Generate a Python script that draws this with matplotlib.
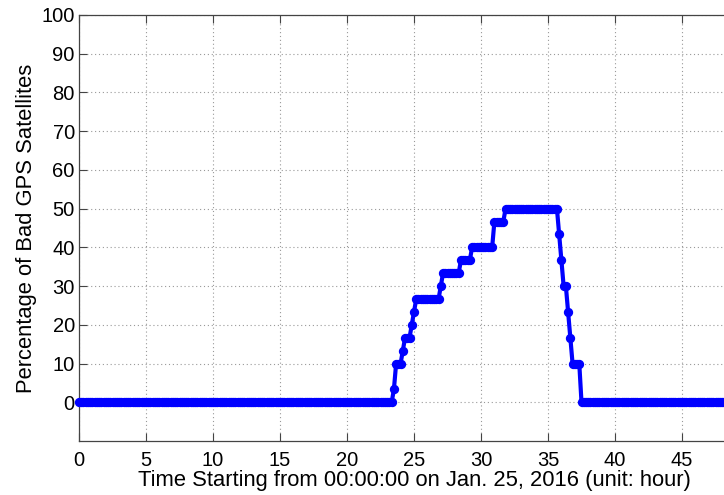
import matplotlib
matplotlib.use("Agg")
import matplotlib.pyplot as plt
import numpy as np

# Step profile: hour at which each level starts, and the level (%)
level_start_h = [0, 23.5, 23.67, 24.17, 24.33, 24.83, 25.0, 25.17, 27.0, 27.17,
                 28.5, 29.33, 31.0, 31.83, 35.83, 36.0, 36.17, 36.5, 36.67,
                 36.83, 37.5]
level_pct = [0, 3.33, 10, 13.33, 16.67, 20, 23.33, 26.67, 30, 33.33,
             36.67, 40, 46.67, 50, 43.33, 36.67, 30, 23.33, 16.67,
             10, 0]

# samples every 10 minutes
sample_h = np.arange(0, 50 * 6 + 1) / 6.0
idx = np.searchsorted(level_start_h, sample_h + 0.01, side="right") - 1
sample_pct = np.asarray(level_pct)[idx]

xticks = [0, 5, 10, 15, 20, 25, 30, 35, 40, 45]
yticks = [0, 10, 20, 30, 40, 50, 60, 70, 80, 90, 100]

plt.rcParams["font.family"] = ["Liberation Sans", "DejaVu Sans"]

fig = plt.figure(figsize=(7.24, 4.95), dpi=100)
# the right side of the axes is cut off in the original
ax = fig.add_axes([79 / 724, 54 / 495, 670 / 724, 426 / 495])

ax.plot(sample_h, sample_pct, "-", color="#0000ff", linewidth=3,
        zorder=3, clip_on=False, solid_joinstyle="round")
ax.plot(sample_h, sample_pct, "o", color="#0000ff", markersize=5.5,
        markeredgewidth=1.2, markeredgecolor="#0000ff", zorder=4,
        clip_on=False)

ax.set_xlim(0, 50)
ax.set_ylim(-10, 100)
ax.set_xticks(xticks)
ax.set_yticks(yticks)
ax.grid(True, linestyle=(0, (1, 2.5)), color="#999999", linewidth=0.8)
ax.tick_params(direction="in", length=6, width=0.8, color="#444444",
               labelsize=14.5, top=True, right=True)
ax.tick_params(axis="x", pad=7)
ax.tick_params(axis="y", pad=3)
for s in ax.spines.values():
    s.set_color("#444444")
    s.set_linewidth(0.9)

ax.set_xlabel("Time Starting from 00:00:00 on Jan. 25, 2016 (unit: hour)",
              fontsize=15.8, labelpad=0)
ax.set_ylabel("Percentage of Bad GPS Satellites", fontsize=15.8, labelpad=3)

fig.savefig("out.png", dpi=100)
